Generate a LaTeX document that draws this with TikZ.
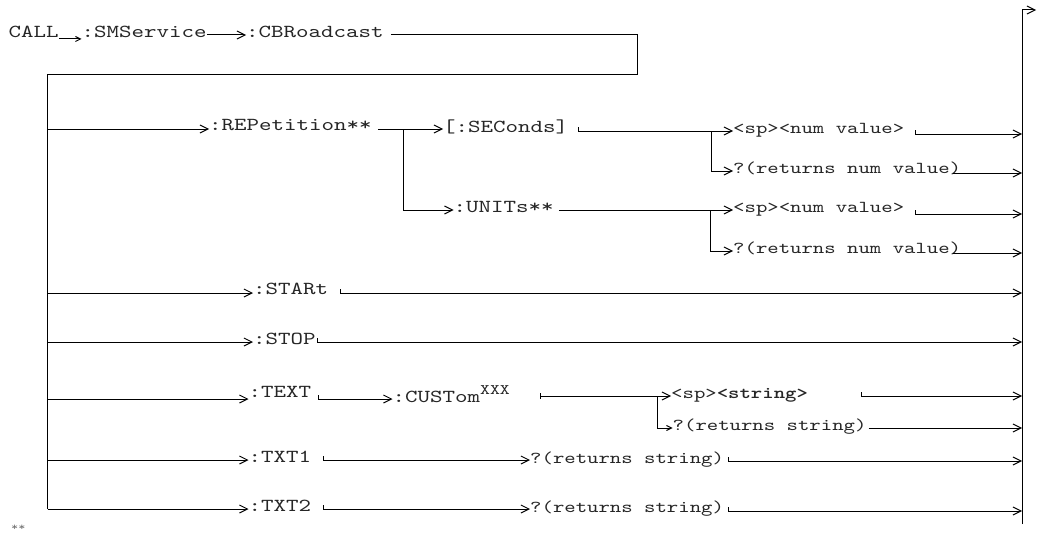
\documentclass[tikz,border=0pt]{standalone}
\usepackage{fontspec}
\newfontfamily\monof{lmmono10-regular.otf}[FakeStretch=1.3, BoldFont=lmmonolt10-bold.otf]
\usetikzlibrary{arrows.meta}
\begin{document}
\begin{tikzpicture}[x=1pt,y=-1pt,
  kw/.style={font=\monof\fontsize{18.3}{22}\selectfont, inner sep=0pt, anchor=base west, text=black!85},
  val/.style={font=\monof\fontsize{16.7}{20}\selectfont, inner sep=0pt, anchor=base west, text=black!85},
  conn/.style={line width=1pt, line cap=butt},
  arr/.style={conn, -{Straight Barb[length=8pt,width=8pt]}},
  sarr/.style={conn, -{Straight Barb[length=5pt,width=5pt]}},
]
\fill[white] (0,0) rectangle (1037,535);
\useasboundingbox (0,0) rectangle (1037,535);

% row coordinates (left parts)
\coordinate (r0) at (0,35);
\coordinate (rRep) at (0,129);
\coordinate (rSa) at (0,131);
\coordinate (rSb) at (0,171);
\coordinate (rUa) at (0,210);
\coordinate (rUb) at (0,251);
\coordinate (rStart) at (0,293);
\coordinate (rStop) at (0,342);
\coordinate (rText) at (0,399);
\coordinate (rCust) at (0,396);
\coordinate (rTs) at (0,428);
\coordinate (rT1) at (0,460);
\coordinate (rT2) at (0,509);
% row coordinates (right parts)
\coordinate (qSa) at (0,134);
\coordinate (qSb) at (0,173);
\coordinate (qUa) at (0,214);
\coordinate (qUb) at (0,253);
\coordinate (qCust) at (0,396);
\coordinate (qTs) at (0,428);
\coordinate (qT1) at (0,461);
\coordinate (qT2) at (0,511);
% frame coordinates
\coordinate (corner) at (637,75);
\coordinate (vL) at (47.5,75);
\coordinate (vLb) at (47.5,509);
\coordinate (vRt) at (1022,10);
\coordinate (vRb) at (1022,524);
\coordinate (exit) at (1036,10);
\coordinate (b1) at (403,129);
\coordinate (b2) at (711,132);
\coordinate (b3) at (710,211);
\coordinate (b4) at (657.5,397);

% nodes
\node[kw] (call) at (8.5,38) {CALL};
\node[kw] (sms) at (81.5,38) {:SMService};
\node[kw] (cbr) at (246,38) {:CBRoadcast};
\node[kw] (rep) at (209,131) {:REPetition**};
\node[kw] (sec) at (443,132) {[:SEConds]};
\node[kw] (units) at (453.5,212) {:UNITs**};
\node[val] (sp1) at (733,133) {<sp><num value>};
\node[val] (q1) at (733,173) {?(returns num value)};
\node[val] (sp2) at (733,212) {<sp><num value>};
\node[val] (q2) at (733,253) {?(returns num value)};
\node[kw] (start) at (253,294) {:STARt};
\node[kw] (stop) at (253,344) {:STOP};
\node[kw] (text) at (248.5,397) {:TEXT};
\node[kw] (cust) at (392.5,402) {:CUSTom\raisebox{8pt}{\fontsize{14.5}{16}\selectfont XXX}};
\node[val] (spstr) at (671,398) {<sp>\textbf{<string>}};
\node[val] (qs) at (672.5,430) {?(returns string)};
\node[kw] (txt1) at (248.5,462) {:TXT1};
\node[val] (q3) at (530,463) {?(returns string)};
\node[kw] (txt2) at (248.5,511) {:TXT2};
\node[val] (q4) at (530,512) {?(returns string)};
\node[font=\monof\fontsize{10.5}{12}\selectfont, text=black!55, inner sep=0pt, anchor=base west] (foot) at (11,530) {**};

% top row
\draw[sarr] ([yshift=-1pt]call.base east) -- ([yshift=-1pt]sms.base west);
\draw[arr] (sms.east |- r0) -- (cbr.west |- r0);
\draw[conn] ([xshift=7pt]cbr.east |- r0) -| (corner) -- (vL) -- (vLb);

% left branches
\draw[arr] (vL |- rRep) -- (rep.west |- rRep);
\draw[arr] (vL |- rStart) -- (start.west |- rStart);
\draw[arr] (vL |- rStop) -- (stop.west |- rStop);
\draw[arr] (vL |- rText) -- (text.west |- rText);
\draw[arr] (vL |- rT1) -- (txt1.west |- rT1);
\draw[arr] (vLb) -- (txt2.west |- rT2);

% REPetition subtree
\draw[arr] ([xshift=6pt]rep.east |- rRep) -- (sec.west |- rRep);
\draw[arr] (b1) |- (units.west |- rUa);
\draw[arr] ([xshift=10pt]sec.east |- rSa) ++(0,-4) -- ++(0,4) -- (sp1.west |- rSa);
\draw[arr] (b2) |- (q1.west |- rSb);
\draw[arr] ([xshift=5pt]units.east |- rUa) -- (sp2.west |- rUa);
\draw[arr] (b3) |- (q2.west |- rUb);

% right ends
\draw[arr] ([xshift=11pt]sp1.east |- qSa) ++(0,-4) -- ++(0,4) -- (vRt |- qSa);
\draw[arr] ([xshift=-8pt]q1.east |- qSb) -- (vRt |- qSb);
\draw[arr] ([xshift=11pt]sp2.east |- qUa) ++(0,-4) -- ++(0,4) -- (vRt |- qUa);
\draw[arr] ([xshift=-8pt]q2.east |- qUb) -- (vRt |- qUb);
\draw[arr] ([xshift=12pt]start.east |- rStart) ++(0,-4) -- ++(0,4) -- (vRt |- rStart);
\draw[arr] ([xshift=2pt]stop.east |- rStop) ++(0,-4) -- ++(0,4) -- (vRt |- rStop);

% TEXT subtree
\draw[arr] ([xshift=7pt]text.east |- rText) ++(0,-4) -- ++(0,4) -- (cust.west |- rText);
\draw[arr] ([xshift=30pt]cust.east |- rCust) ++(0,-3) -- ++(0,6) ++(0,-3) -- (spstr.west |- rCust);
\draw[sarr] (b4) |- (qs.west |- rTs);
\draw[arr] ([xshift=53pt]spstr.east |- qCust) ++(0,-4) -- ++(0,4) -- (vRt |- qCust);
\draw[arr] ([xshift=2pt]qs.east |- qTs) -- (vRt |- qTs);

% TXT1 / TXT2
\draw[arr] ([xshift=12pt]txt1.east |- rT1) ++(0,-4) -- ++(0,4) -- (q3.west |- rT1);
\draw[arr] ([xshift=4pt]q3.east |- qT1) ++(0,-4) -- ++(0,4) -- (vRt |- qT1);
\draw[arr] ([xshift=12pt]txt2.east |- rT2) ++(0,-4) -- ++(0,4) -- (q4.west |- rT2);
\draw[arr] ([xshift=4pt]q4.east |- qT2) ++(0,-4) -- ++(0,4) -- (vRt |- qT2);

% right bar and exit
\draw[arr] (vRb) -- (vRt) -- (exit);
\end{tikzpicture}
\end{document}
